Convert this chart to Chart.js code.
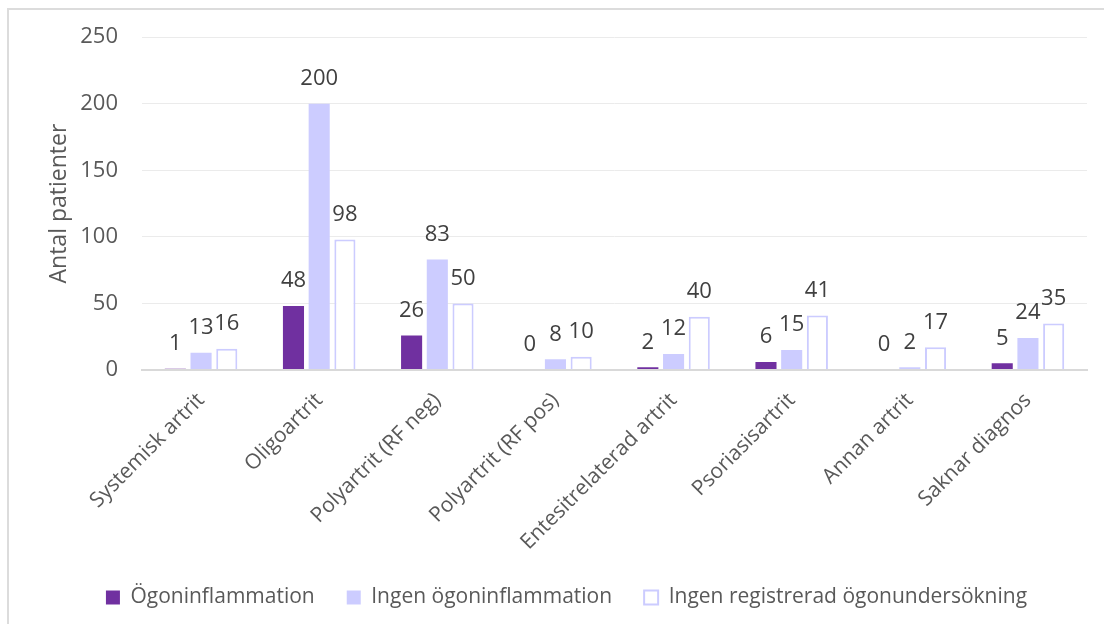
<!DOCTYPE html>
<html>
<head>
<meta charset="utf-8">
<script src="https://cdn.jsdelivr.net/npm/chart.js@4/dist/chart.umd.min.js"></script>
<style>
  html, body { margin: 0; padding: 0; background: #ffffff; overflow: hidden; }
  #frame { position: absolute; left: 7px; top: 8px; width: 1200px; height: 700px;
           border-left: 2px solid #dcdcdc; border-top: 2px solid #dcdcdc; box-sizing: border-box; }
  #wrap { position: absolute; left: 0; top: 0; width: 1104px; height: 624px; }
</style>
</head>
<body>
<div id="frame"></div>
<div id="wrap"><canvas id="chart" width="1104" height="624"></canvas></div>
<script>
// Diagnosgrupper och antal patienter per ögonstatus
const categories = [
  'Systemisk artrit', 'Oligoartrit', 'Polyartrit (RF neg)', 'Polyartrit (RF pos)',
  'Entesitrelaterad artrit', 'Psoriasisartrit', 'Annan artrit', 'Saknar diagnos'
];
const seriesNames = ['Ögoninflammation', 'Ingen ögoninflammation', 'Ingen registrerad ögonundersökning'];
const ogoninflammation = [1, 48, 26, 0, 2, 6, 0, 5];
const ingenOgoninflammation = [13, 200, 83, 8, 12, 15, 2, 24];
const ingenRegistrerad = [16, 98, 50, 10, 40, 41, 17, 35];
const yTicks = [0, 50, 100, 150, 200, 250];

const FONT = "'Open Sans', 'Noto Sans', sans-serif";

// Writes each bar's value just above it
const valueLabels = {
  id: 'valueLabels',
  afterDatasetsDraw(chart) {
    const ctx = chart.ctx;
    ctx.save();
    ctx.font = '22px ' + FONT;
    ctx.fillStyle = '#404040';
    ctx.textAlign = 'center';
    ctx.textBaseline = 'middle';
    chart.data.datasets.forEach((ds, i) => {
      const meta = chart.getDatasetMeta(i);
      meta.data.forEach((bar, j) => {
        ctx.fillText(String(ds.data[j]), bar.x, bar.y - 25);
      });
    });
    ctx.restore();
  }
};

new Chart(document.getElementById('chart'), {
  type: 'bar',
  data: {
    labels: categories,
    datasets: [
      { label: seriesNames[0], data: ogoninflammation, backgroundColor: '#7030A0',
        borderColor: '#7030A0', borderWidth: 0 },
      { label: seriesNames[1], data: ingenOgoninflammation, backgroundColor: '#CCCCFF',
        borderColor: '#CCCCFF', borderWidth: 0 },
      { label: seriesNames[2], data: ingenRegistrerad, backgroundColor: '#FFFFFF',
        borderColor: '#CCCCFF', borderWidth: 2 }
    ]
  },
  options: {
    responsive: false,
    animation: false,
    devicePixelRatio: 1,
    layout: { padding: { left: 46, right: 17, top: 37, bottom: 6 } },
    datasets: { bar: { categoryPercentage: 0.653, barPercentage: 0.82 } },
    plugins: {
      legend: {
        position: 'bottom',
        labels: {
          font: { family: FONT, size: 21 },
          color: '#595959',
          boxWidth: 14,
          boxHeight: 14,
          padding: 32
        }
      },
      tooltip: { enabled: false }
    },
    scales: {
      x: {
        grid: { display: false, drawTicks: false },
        border: { display: true, color: '#d9d9d9', width: 2 },
        ticks: {
          font: { family: FONT, size: 21 },
          color: '#595959',
          maxRotation: 45,
          minRotation: 45,
          padding: 18,
          autoSkip: false
        },
        afterFit(scale) { scale.height = 185; }
      },
      y: {
        min: 0,
        max: 250,
        afterBuildTicks(scale) { scale.ticks = yTicks.map(v => ({ value: v })); },
        grid: {
          drawTicks: false,
          color: (c) => c.tick && c.tick.value === 0 ? '#d9d9d9' : '#ebebeb',
          lineWidth: (c) => c.tick && c.tick.value === 0 ? 2 : 1
        },
        border: { display: false },
        ticks: {
          font: { family: FONT, size: 22 },
          color: '#595959',
          padding: 24
        },
        title: {
          display: true,
          text: 'Antal patienter',
          font: { family: FONT, size: 23 },
          color: '#595959',
          padding: { top: 0, bottom: 0 }
        },
        afterFit(scale) { scale.width = 96; }
      }
    }
  },
  plugins: [valueLabels]
});
</script>
</body>
</html>
